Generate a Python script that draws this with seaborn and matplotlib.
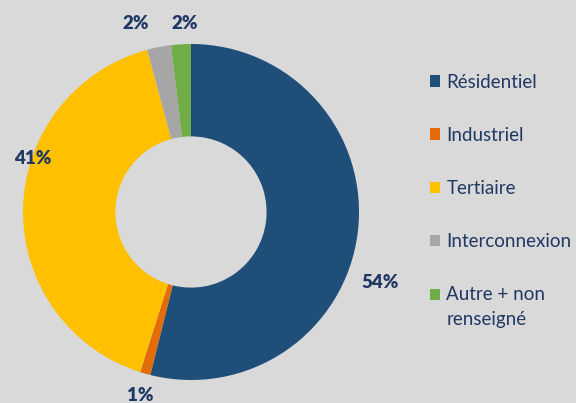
import matplotlib
matplotlib.use('Agg')
import matplotlib.pyplot as plt
import seaborn as sns

categories = ['Résidentiel', 'Industriel', 'Tertiaire', 'Interconnexion', 'Autre + non\nrenseigné']
parts = [53.9, 1.0, 40.9, 2.3, 1.9]
pct_labels = ['54%', '1%', '41%', '2%', '2%']
colors = ['#1F4E79', '#E36C09', '#FFC000', '#A6A6A6', '#70AD47']
# where each percentage sits (x, y), in pie units
label_pos = [(1.125, -0.42), (-0.30, -1.09), (-0.94, 0.32), (-0.33, 1.12), (-0.04, 1.12)]

sns.set_theme(style='white')
plt.rcParams['font.family'] = ['Lato', 'DejaVu Sans']
text_col = '#1F3864'
bg = '#D9D9D9'

fig = plt.figure(figsize=(5.76, 4.03), dpi=100, facecolor=bg)
ax = fig.add_axes([23 / 576, 23 / 403, 336 / 576, 336 / 403])
ax.set_facecolor(bg)

wedges, _ = ax.pie(parts, colors=sns.color_palette(colors), startangle=90, counterclock=False,
                   radius=1, wedgeprops=dict(width=0.55, linewidth=0))
ax.set_xlim(-1, 1)
ax.set_ylim(-1, 1)
ax.axis('off')

for (x, y), t in zip(label_pos, pct_labels):
    ax.text(x, y, t, ha='center', va='center', fontsize=13.5, fontweight='heavy', color=text_col)

leg = fig.legend(wedges, categories, loc='upper left', bbox_to_anchor=(422 / 576, 1 - 66 / 403),
                 frameon=False, fontsize=13.5, labelcolor=text_col, handlelength=0.55, handleheight=0.55,
                 handletextpad=0.35, labelspacing=1.93, borderaxespad=0)
for t in leg.get_texts():
    t.set_linespacing(1.53)
# square of the two-line entry sits next to its first line
last = leg.legend_handles[-1]
last.set_y(last.get_y() + 9)

fig.savefig('out.png', dpi=100, facecolor=bg)
